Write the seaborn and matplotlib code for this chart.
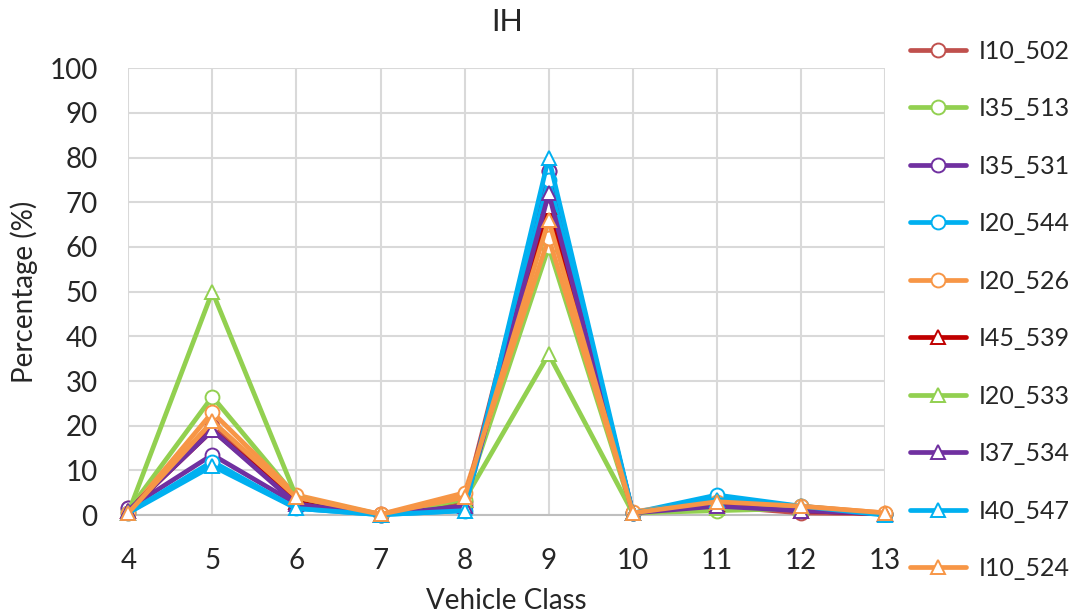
import matplotlib
matplotlib.use("Agg")
import matplotlib.pyplot as plt
import seaborn as sns
import numpy as np

vehicle_class = [4, 5, 6, 7, 8, 9, 10, 11, 12, 13]
series_names = ["I10_502", "I35_513", "I35_531", "I20_544", "I20_526",
                "I45_539", "I20_533", "I37_534", "I40_547", "I10_524"]
I10_502 = [1.5, 20.0, 2.5, 0.2, 3.0, 77.0, 0.5, 2.0, 0.5, 0.3]
I35_513 = [1.0, 26.5, 4.0, 0.1, 3.5, 60.0, 0.5, 1.0, 1.5, 0.3]
I35_531 = [1.5, 13.5, 2.5, 0.1, 2.0, 77.0, 0.5, 2.5, 1.0, 0.3]
I20_544 = [0.5, 12.0, 1.5, 0.1, 1.0, 75.0, 0.5, 4.5, 2.0, 0.3]
I20_526 = [0.5, 23.0, 4.5, 0.2, 5.0, 62.0, 0.8, 3.0, 2.0, 0.5]
I45_539 = [1.0, 19.0, 3.0, 0.1, 3.5, 69.0, 0.5, 2.5, 1.0, 0.3]
I20_533 = [0.5, 50.0, 4.0, 0.1, 3.5, 36.0, 0.5, 1.5, 1.5, 0.3]
I37_534 = [1.0, 19.0, 2.5, 0.1, 2.0, 72.0, 0.5, 2.0, 1.0, 0.3]
I40_547 = [0.5, 11.0, 1.5, 0.1, 1.0, 80.0, 0.5, 3.5, 2.0, 0.0]
I10_524 = [0.5, 21.0, 4.0, 0.2, 4.0, 66.0, 0.5, 3.0, 2.0, 0.5]
series_values = [I10_502, I35_513, I35_531, I20_544, I20_526,
                 I45_539, I20_533, I37_534, I40_547, I10_524]
colors = ["#C0504D", "#92D050", "#7030A0", "#00B0F0", "#F79646",
          "#C00000", "#92D050", "#7030A0", "#00B0F0", "#F79646"]
markers = ["o", "o", "o", "o", "o", "^", "^", "^", "^", "^"]
y_ticks = [0, 10, 20, 30, 40, 50, 60, 70, 80, 90, 100]

sns.set_theme(style="white")
plt.rcParams['font.family'] = ['Lato', 'DejaVu Sans']

fig = plt.figure(figsize=(10.78, 6.14), dpi=100)
ax = fig.add_axes([0.119, 0.161, 0.702, 0.728])

for name, vals, c, m in zip(series_names, series_values, colors, markers):
    sns.lineplot(x=vehicle_class, y=vals, color=c, marker=m, markersize=10,
                 markerfacecolor="white", markeredgecolor=c, markeredgewidth=1.4,
                 linewidth=3.4, label=name, ax=ax, clip_on=False, zorder=3)

ax.set_xlim(4, 13)
ax.set_ylim(0, 100)
ax.set_xticks(vehicle_class)
ax.set_yticks(y_ticks)
ax.grid(True, color="#D9D9D9", linewidth=1.5)
ax.set_axisbelow(True)
for s in ["top", "right", "left"]:
    ax.spines[s].set_visible(False)
ax.spines["bottom"].set_color("#BFBFBF")
ax.spines["bottom"].set_linewidth(1.5)
ax.tick_params(axis="y", labelsize=20, length=0, pad=22)
ax.tick_params(axis="x", labelsize=20, length=0, pad=24)
ax.set_xlabel("Vehicle Class", fontsize=20, labelpad=10)
ax.set_ylabel("Percentage (%)", fontsize=20, labelpad=8)
ax.set_title("IH", fontsize=22, pad=27)

leg = ax.legend(loc="upper left", bbox_to_anchor=(1.033, 1.064), frameon=False,
                fontsize=18, labelspacing=1.38, handlelength=2.25,
                handletextpad=0.5, borderaxespad=0, borderpad=0)

fig.savefig("out.png", dpi=100)
